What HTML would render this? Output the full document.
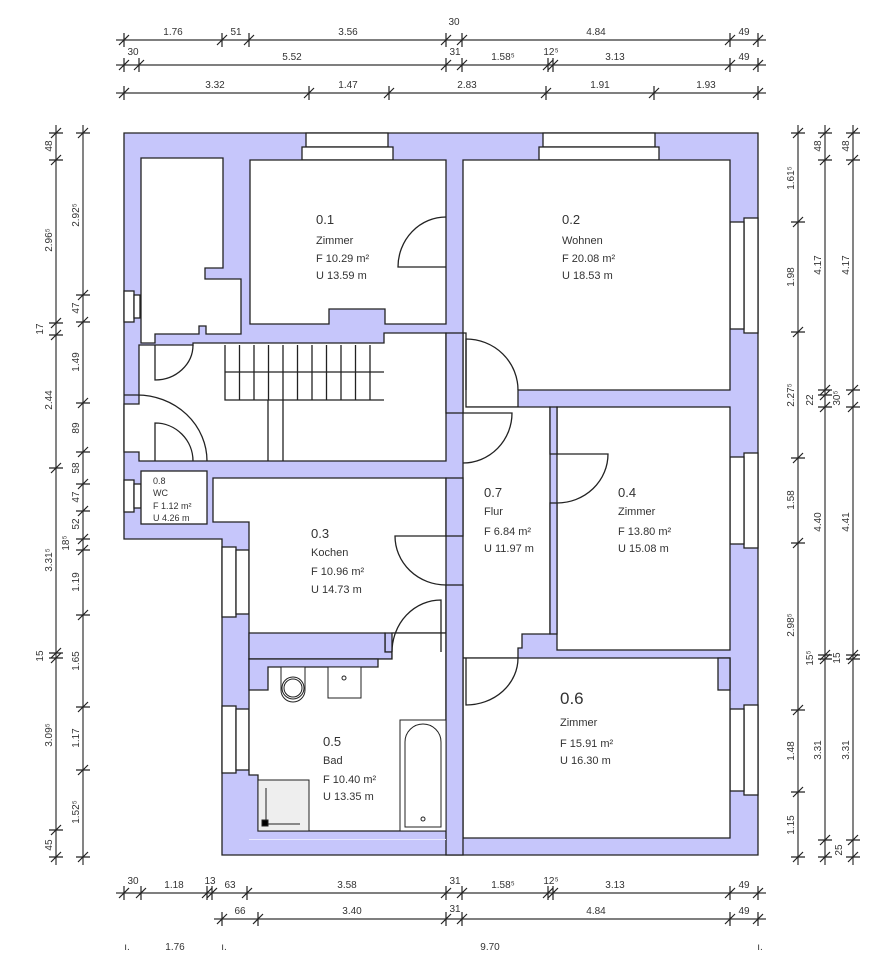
<!DOCTYPE html>
<html><head><meta charset="utf-8"><style>
html,body{margin:0;padding:0;background:#fff;width:896px;height:960px;overflow:hidden}
svg{display:block}
text{font-family:"Liberation Sans",sans-serif;fill:#333}
.d{font-size:10px}
.r{font-size:11px}
</style></head><body>
<svg width="896" height="960" viewBox="0 0 896 960" xmlns="http://www.w3.org/2000/svg">
<defs>
<path id="th" d="M0,-7V7M-5,5L5,-5" stroke="#222" stroke-width="1.2" fill="none"/>
<path id="tv" d="M-7,0H7M-5,5L5,-5" stroke="#222" stroke-width="1.2" fill="none"/>
</defs>
<g stroke="#222" stroke-width="1.3" fill="#fff">
<polygon points="124,133 758,133 758,855 222,855 222,539 124,539" fill="#c6c6fb"/>
<rect x="306" y="133" width="82" height="14"/><rect x="302" y="147" width="91" height="13"/>
<rect x="543" y="133" width="112" height="14"/><rect x="539" y="147" width="120" height="13"/>
<rect x="744" y="218" width="14" height="115"/><rect x="730" y="222" width="14" height="107"/>
<rect x="744" y="453" width="14" height="95"/><rect x="730" y="457" width="14" height="87"/>
<rect x="744" y="705" width="14" height="90"/><rect x="730" y="709" width="14" height="82"/>
<rect x="124" y="291" width="10" height="31"/><rect x="134" y="295" width="6" height="23"/>
<rect x="124" y="480" width="10" height="32"/><rect x="134" y="484" width="7" height="24"/>
<rect x="222" y="547" width="14" height="70"/><rect x="236" y="550" width="13" height="64"/>
<rect x="222" y="706" width="14" height="67"/><rect x="236" y="709" width="13" height="61"/>
<polygon points="141,158 223,158 223,268 205,268 205,279 241,279 241,334 206,334 206,326 199,326 199,334 155,334 155,343 141,343"/>
<polygon points="250,160 446,160 446,324 385,324 385,309 329,309 329,324 250,324"/>
<polygon points="139,345 193,345 193,343 384,343 384,333 446,333 446,461 139,461 139,452 124,452 124,404 139,404"/>
<polygon points="463,160 730,160 730,390 518,390 518,407 463,407"/>
<polygon points="463,333 466,333 466,407 550,407 550,634 522,634 522,648 518,648 518,658 463,658"/>
<rect x="557" y="407" width="173" height="243"/>
<polygon points="463,658 730,658 730,838 463,838"/>
<rect x="718" y="658" width="12" height="32" fill="#c6c6fb"/>
<rect x="141" y="471" width="66" height="53"/>
<polygon points="213,478 446,478 446,633 385,633 385,652 392,652 392,659 249,659 249,522 213,522"/>
<polygon points="249,633 385,633 385,652 392,652 392,659 249,659" fill="#c6c6fb"/>
<polygon points="249,659 392,659 392,633 446,633 446,831 258,831 258,775 249,775"/>
<polygon points="249,659 378,659 378,667 268,667 268,690 249,690" fill="#c6c6fb"/>
<rect x="446" y="478" width="17" height="58" fill="#c6c6fb"/>
<rect x="446" y="585" width="17" height="270" fill="#c6c6fb"/>
<rect x="446" y="333" width="17" height="80" fill="#c6c6fb"/>
<rect x="550" y="407" width="7" height="47" fill="#c6c6fb"/>
<rect x="550" y="503" width="7" height="131" fill="#c6c6fb"/>
</g>
<rect x="249" y="839" width="197" height="1" fill="#e8e8ff"/>
<g stroke="#222" stroke-width="1.3" fill="none">
<path d="M155,345V380A38,35 0 0 0 193,345"/>
<path d="M137,395H124M137,395A70,66 0 0 1 207,461"/>
<path d="M155,461V423A38,38 0 0 1 193,461"/>
<path d="M446,267H398A48,50 0 0 1 446,217"/>
<path d="M466,390V339A52,51 0 0 1 518,390"/>
<path d="M463,413H512A49,50 0 0 1 463,463"/>
<path d="M557,454H608A51,49 0 0 1 557,503"/>
<path d="M446,536H395A51,49 0 0 0 446,585"/>
<path d="M441,652V600A49,52 0 0 0 392,652"/>
<path d="M466,658V705A52,47 0 0 0 518,658"/>
<path d="M225,345V400H384M225,372H384M268,400V461M283,400V461"/>
<path d="M239.5,345V400M254,345V400M268.5,345V400M283,345V400M297.5,345V400M312,345V400M326.5,345V400M341,345V400M355.5,345V400M370,345V400"/>
</g>
<g stroke="#222" stroke-width="1" fill="#fff">
<path d="M281,667H305V690A12,12 0 0 1 281,690Z"/>
<circle cx="293" cy="688" r="11"/><circle cx="293" cy="688" r="9"/>
<rect x="328" y="667" width="33" height="31"/><circle cx="344" cy="678" r="2"/>
<rect x="258" y="780" width="51" height="51" fill="#eee"/>
<path d="M266,788V824H300" fill="none"/><rect x="262" y="820" width="6" height="6" fill="#000"/>
<rect x="400" y="720" width="46" height="111"/>
<path d="M405,827V742A18,18 0 0 1 441,742V827Z"/><circle cx="423" cy="819" r="2"/>
</g>
<text class="r" x="316" y="224" style="font-size:13px">0.1</text>
<text class="r" x="316" y="244">Zimmer</text>
<text class="r" x="316" y="262">F  10.29 m²</text>
<text class="r" x="316" y="279">U  13.59 m</text>
<text class="r" x="562" y="224" style="font-size:13px">0.2</text>
<text class="r" x="562" y="244">Wohnen</text>
<text class="r" x="562" y="262">F  20.08 m²</text>
<text class="r" x="562" y="279">U  18.53 m</text>
<text class="r" x="484" y="497" style="font-size:13px">0.7</text>
<text class="r" x="484" y="515">Flur</text>
<text class="r" x="484" y="535">F  6.84 m²</text>
<text class="r" x="484" y="552">U  11.97 m</text>
<text class="r" x="618" y="497" style="font-size:13px">0.4</text>
<text class="r" x="618" y="515">Zimmer</text>
<text class="r" x="618" y="535">F  13.80 m²</text>
<text class="r" x="618" y="552">U  15.08 m</text>
<text class="r" x="311" y="538" style="font-size:13px">0.3</text>
<text class="r" x="311" y="556">Kochen</text>
<text class="r" x="311" y="575">F  10.96 m²</text>
<text class="r" x="311" y="593">U  14.73 m</text>
<text class="r" x="323" y="746" style="font-size:13px">0.5</text>
<text class="r" x="323" y="764">Bad</text>
<text class="r" x="323" y="783">F  10.40 m²</text>
<text class="r" x="323" y="800">U  13.35 m</text>
<text x="560" y="704" style="font-size:17px">0.6</text>
<text class="r" x="560" y="726">Zimmer</text>
<text class="r" x="560" y="747">F  15.91 m²</text>
<text class="r" x="560" y="764">U  16.30 m</text>
<text x="153" y="484" style="font-size:9px">0.8</text>
<text x="153" y="496" style="font-size:9px">WC</text>
<text x="153" y="509" style="font-size:9px">F  1.12 m²</text>
<text x="153" y="521" style="font-size:9px">U  4.26 m</text>
<g stroke="#333" stroke-width="1.2">
<line x1="116" y1="40" x2="766" y2="40"/><line x1="116" y1="65" x2="766" y2="65"/><line x1="116" y1="93" x2="766" y2="93"/>
<line x1="116" y1="893" x2="766" y2="893"/><line x1="214" y1="919" x2="766" y2="919"/>
<line x1="56" y1="125" x2="56" y2="865"/><line x1="83" y1="125" x2="83" y2="865"/>
<line x1="798" y1="125" x2="798" y2="865"/><line x1="825" y1="125" x2="825" y2="865"/><line x1="853" y1="125" x2="853" y2="865"/>
</g>
<g>
<use href="#th" x="124" y="40"/><use href="#th" x="222" y="40"/><use href="#th" x="249" y="40"/><use href="#th" x="446" y="40"/><use href="#th" x="462" y="40"/><use href="#th" x="730" y="40"/><use href="#th" x="758" y="40"/>
<use href="#th" x="124" y="65"/><use href="#th" x="139" y="65"/><use href="#th" x="446" y="65"/><use href="#th" x="462" y="65"/><use href="#th" x="548" y="65"/><use href="#th" x="553" y="65"/><use href="#th" x="730" y="65"/><use href="#th" x="758" y="65"/>
<use href="#th" x="124" y="93"/><use href="#th" x="309" y="93"/><use href="#th" x="389" y="93"/><use href="#th" x="546" y="93"/><use href="#th" x="654" y="93"/><use href="#th" x="758" y="93"/>
<use href="#th" x="124" y="893"/><use href="#th" x="141" y="893"/><use href="#th" x="207" y="893"/><use href="#th" x="212" y="893"/><use href="#th" x="247" y="893"/><use href="#th" x="446" y="893"/><use href="#th" x="462" y="893"/><use href="#th" x="548" y="893"/><use href="#th" x="553" y="893"/><use href="#th" x="730" y="893"/><use href="#th" x="758" y="893"/>
<use href="#th" x="222" y="919"/><use href="#th" x="258" y="919"/><use href="#th" x="446" y="919"/><use href="#th" x="462" y="919"/><use href="#th" x="730" y="919"/><use href="#th" x="758" y="919"/>
<use href="#tv" x="56" y="133"/><use href="#tv" x="56" y="160"/><use href="#tv" x="56" y="323"/><use href="#tv" x="56" y="335"/><use href="#tv" x="56" y="468"/><use href="#tv" x="56" y="653"/><use href="#tv" x="56" y="658"/><use href="#tv" x="56" y="830"/><use href="#tv" x="56" y="857"/>
<use href="#tv" x="83" y="133"/><use href="#tv" x="83" y="295"/><use href="#tv" x="83" y="322"/><use href="#tv" x="83" y="403"/><use href="#tv" x="83" y="452"/><use href="#tv" x="83" y="484"/><use href="#tv" x="83" y="511"/><use href="#tv" x="83" y="539"/><use href="#tv" x="83" y="550"/><use href="#tv" x="83" y="615"/><use href="#tv" x="83" y="707"/><use href="#tv" x="83" y="770"/><use href="#tv" x="83" y="857"/>
<use href="#tv" x="798" y="133"/><use href="#tv" x="798" y="222"/><use href="#tv" x="798" y="332"/><use href="#tv" x="798" y="458"/><use href="#tv" x="798" y="543"/><use href="#tv" x="798" y="710"/><use href="#tv" x="798" y="792"/><use href="#tv" x="798" y="857"/>
<use href="#tv" x="825" y="133"/><use href="#tv" x="825" y="160"/><use href="#tv" x="825" y="390"/><use href="#tv" x="825" y="395"/><use href="#tv" x="825" y="407"/><use href="#tv" x="825" y="655"/><use href="#tv" x="825" y="659"/><use href="#tv" x="825" y="840"/><use href="#tv" x="825" y="857"/>
<use href="#tv" x="853" y="133"/><use href="#tv" x="853" y="160"/><use href="#tv" x="853" y="390"/><use href="#tv" x="853" y="407"/><use href="#tv" x="853" y="655"/><use href="#tv" x="853" y="659"/><use href="#tv" x="853" y="840"/><use href="#tv" x="853" y="857"/>
</g>
<g class="d" text-anchor="middle" font-size="10">
<text class="d" x="173" y="35">1.76</text><text class="d" x="236" y="35">51</text><text class="d" x="348" y="35">3.56</text><text class="d" x="454" y="25">30</text><text class="d" x="596" y="35">4.84</text><text class="d" x="744" y="35">49</text>
<text class="d" x="133" y="55">30</text><text class="d" x="292" y="60">5.52</text><text class="d" x="455" y="55">31</text><text class="d" x="503" y="60">1.58⁵</text><text class="d" x="551" y="55">12⁵</text><text class="d" x="615" y="60">3.13</text><text class="d" x="744" y="60">49</text>
<text class="d" x="215" y="88">3.32</text><text class="d" x="348" y="88">1.47</text><text class="d" x="467" y="88">2.83</text><text class="d" x="600" y="88">1.91</text><text class="d" x="706" y="88">1.93</text>
<text class="d" x="133" y="884">30</text><text class="d" x="174" y="888">1.18</text><text class="d" x="210" y="884">13</text><text class="d" x="230" y="888">63</text><text class="d" x="347" y="888">3.58</text><text class="d" x="455" y="884">31</text><text class="d" x="503" y="888">1.58⁵</text><text class="d" x="551" y="884">12⁵</text><text class="d" x="615" y="888">3.13</text><text class="d" x="744" y="888">49</text>
<text class="d" x="240" y="914">66</text><text class="d" x="352" y="914">3.40</text><text class="d" x="455" y="912">31</text><text class="d" x="596" y="914">4.84</text><text class="d" x="744" y="914">49</text>
<text class="d" x="175" y="950">1.76</text><text class="d" x="490" y="950">9.70</text>
<text class="d" x="127" y="950">ı.</text><text class="d" x="224" y="950">ı.</text><text class="d" x="760" y="950">ı.</text>
</g>
<g text-anchor="middle">
<text class="d" transform="translate(52,146) rotate(-90)">48</text>
<text class="d" transform="translate(52,240) rotate(-90)">2.96⁵</text>
<text class="d" transform="translate(43,329) rotate(-90)">17</text>
<text class="d" transform="translate(52,400) rotate(-90)">2.44</text>
<text class="d" transform="translate(52,560) rotate(-90)">3.31⁵</text>
<text class="d" transform="translate(43,656) rotate(-90)">15</text>
<text class="d" transform="translate(52,735) rotate(-90)">3.09⁵</text>
<text class="d" transform="translate(52,845) rotate(-90)">45</text>
<text class="d" transform="translate(79,215) rotate(-90)">2.92⁵</text>
<text class="d" transform="translate(79,308) rotate(-90)">47</text>
<text class="d" transform="translate(79,362) rotate(-90)">1.49</text>
<text class="d" transform="translate(79,428) rotate(-90)">89</text>
<text class="d" transform="translate(79,468) rotate(-90)">58</text>
<text class="d" transform="translate(79,497) rotate(-90)">47</text>
<text class="d" transform="translate(79,524) rotate(-90)">52</text>
<text class="d" transform="translate(69,543) rotate(-90)">18⁵</text>
<text class="d" transform="translate(79,582) rotate(-90)">1.19</text>
<text class="d" transform="translate(79,661) rotate(-90)">1.65</text>
<text class="d" transform="translate(79,738) rotate(-90)">1.17</text>
<text class="d" transform="translate(79,812) rotate(-90)">1.52⁵</text>
<text class="d" transform="translate(794,178) rotate(-90)">1.61⁵</text>
<text class="d" transform="translate(794,277) rotate(-90)">1.98</text>
<text class="d" transform="translate(794,395) rotate(-90)">2.27⁵</text>
<text class="d" transform="translate(794,500) rotate(-90)">1.58</text>
<text class="d" transform="translate(794,625) rotate(-90)">2.98⁵</text>
<text class="d" transform="translate(794,751) rotate(-90)">1.48</text>
<text class="d" transform="translate(794,825) rotate(-90)">1.15</text>
<text class="d" transform="translate(821,146) rotate(-90)">48</text>
<text class="d" transform="translate(821,265) rotate(-90)">4.17</text>
<text class="d" transform="translate(813,400) rotate(-90)">22</text>
<text class="d" transform="translate(821,522) rotate(-90)">4.40</text>
<text class="d" transform="translate(813,658) rotate(-90)">15⁵</text>
<text class="d" transform="translate(821,750) rotate(-90)">3.31</text>
<text class="d" transform="translate(842,850) rotate(-90)">25</text>
<text class="d" transform="translate(849,146) rotate(-90)">48</text>
<text class="d" transform="translate(849,265) rotate(-90)">4.17</text>
<text class="d" transform="translate(840,398) rotate(-90)">30⁵</text>
<text class="d" transform="translate(849,522) rotate(-90)">4.41</text>
<text class="d" transform="translate(840,658) rotate(-90)">15</text>
<text class="d" transform="translate(849,750) rotate(-90)">3.31</text>
</g>
</svg>
</body></html>
